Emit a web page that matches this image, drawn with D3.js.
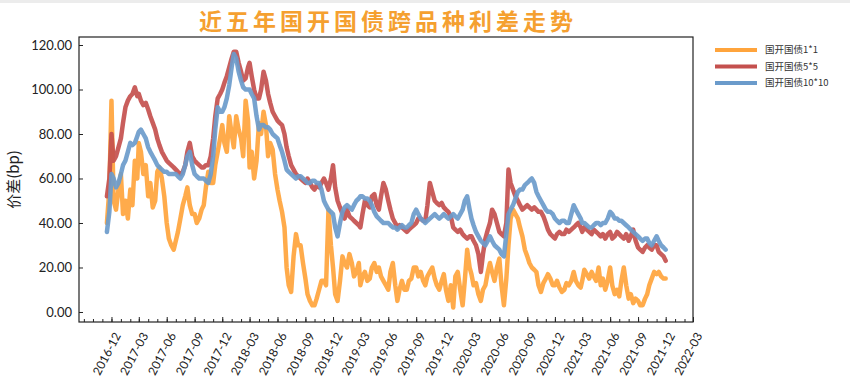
<!DOCTYPE html>
<html>
<head>
<meta charset="utf-8">
<script src="https://cdn.jsdelivr.net/npm/d3@7"></script>
<style>
  html, body { margin: 0; padding: 0; background: #fff; }
  svg { display: block; }
</style>
</head>
<body>
<svg id="chart" width="850" height="385"></svg>
<script>
// ---------------- DATA ----------------
const title = "近五年国开国债跨品种利差走势";
const yLabel = "价差(bp)";
const seriesNames = ["国开国债1*1", "国开国债5*5", "国开国债10*10"];
const xTickLabels = ["2016-12","2017-03","2017-06","2017-09","2017-12","2018-03","2018-06","2018-09","2018-12","2019-03","2019-06","2019-09","2019-12","2020-03","2020-06","2020-09","2020-12","2021-03","2021-06","2021-09","2021-12","2022-03"];
const yTicks = [0, 20, 40, 60, 80, 100, 120];

// observation dates: 2016-11-16, 2016-11-24, then days 1/8/16/24 of each month Dec-2016..Nov-2021, then 2021-12-01
const firstDates = ["2016-11-16", "2016-11-24"];
const obsDays = [1, 8, 16, 24];
const monthStart = "2016-12", monthEnd = "2021-11";
const lastDates = ["2021-12-01"];

const spread1x1 = [40,55,
95,50,46,55,
62,44,50,42, 55,48,68,60, 76,72,62,66, 52,58,47,50, 63,65,60,52, 40,33,30,28,
32,36,42,48, 52,56,48,44, 44,40,42,46, 48,56,63,58, 58,66,72,78, 84,76,72,88,
80,74,88,82, 78,70,95,86, 65,72,60,68, 85,80,90,84, 70,76,73,62, 55,50,45,38,
20,12,9,25, 35,30,30,22, 15,8,5,3, 3,6,10,14, 14,12,46,30, 20,8,5,14,
25,22,20,26, 22,16,18,22, 12,16,18,14, 15,20,22,18, 20,16,14,12, 10,18,22,12,
5,10,14,10, 10,14,15,20, 20,16,18,14, 12,16,18,20, 15,12,10,14, 17,10,5,12,
2,16,18,10, 3,14,28,20, 17,12,13,8, 5,10,12,18, 22,18,14,20, 24,12,3,15,
30,42,46,44, 42,38,34,28, 25,22,20,19, 18,12,9,13, 15,17,15,12, 12,14,11,9,
10,13,12,14, 18,14,12,11, 14,19,17,15, 18,16,14,20, 12,15,10,14, 20,12,8,10,
7,14,20,12, 6,8,4,6, 5,3,3,6, 8,12,15,18, 17,18,16,15,
15];

const spread5x5 = [52,60,
80,68,70,74,
78,85,92,95, 97,98,101,97, 98,95,93,94, 91,88,85,82, 78,75,72,70, 68,67,66,65,
64,63,62,63, 66,72,76,70, 68,67,66,65, 65,66,66,70, 78,88,96,98, 100,103,106,110,
114,117,117,112, 108,104,105,110, 112,106,100,96, 96,100,108,104, 98,94,90,88, 86,85,84,80,
74,70,66,64, 62,61,60,59, 58,60,58,56, 55,57,56,58, 60,58,55,60, 66,56,50,47,
44,42,46,43, 42,41,40,39, 38,44,50,48, 47,52,53,48, 46,52,58,55, 50,46,42,40,
38,39,38,37, 36,37,38,39, 40,42,42,41, 41,48,58,54, 50,49,48,49, 47,46,45,43,
38,37,36,37, 35,34,33,34, 34,32,30,26, 18,26,33,37, 40,46,44,40, 36,35,34,40,
64,58,55,52, 50,48,46,47, 48,47,46,47, 46,45,45,43, 40,37,35,34, 33,35,36,35,
35,37,36,37, 38,39,40,38, 36,38,37,36, 35,37,36,35, 34,35,33,35, 36,33,34,36,
35,34,33,35, 32,34,37,32, 29,28,27,29, 30,29,28,30, 30,27,26,25,
23];

const spread10x10 = [36,45,
62,60,56,58,
62,66,68,72, 76,75,76,79, 81,82,80,78, 74,72,70,68, 66,65,64,63, 63,62,62,62,
62,61,60,62, 66,70,72,66, 62,61,60,60, 60,59,58,62, 70,82,92,90, 90,92,96,102,
110,116,114,108, 104,101,100,100, 100,98,96,88, 82,84,84,83, 83,82,80,79, 78,75,72,68,
64,63,62,61, 60,61,61,60, 59,58,58,59, 59,58,58,55, 50,48,46,45, 44,38,34,40,
45,47,48,47, 46,48,50,51, 52,52,51,51, 50,48,45,43, 42,41,40,40, 40,39,38,38,
37,38,39,38, 38,39,40,44, 46,44,42,41, 40,41,42,43, 44,43,42,43, 44,43,42,43,
44,43,42,44, 46,50,52,46, 42,39,36,34, 32,31,30,32, 34,32,30,29, 28,26,25,35,
44,46,48,51, 54,55,55,57, 58,59,60,58, 54,52,50,48, 46,45,45,44, 42,41,40,41,
41,40,40,44, 48,46,44,42, 40,40,39,38, 38,39,40,40, 39,40,40,42, 45,44,42,42,
41,41,40,39, 38,37,36,35, 34,33,32,33, 33,31,30,32, 34,32,30,29,
28];

const colors = ["#FFA43C", "#C4504E", "#6B9BCB"];

// ---------------- CHART ----------------
const svg = d3.select("#chart");
const W = 850, H = 385;
const m = { left: 79, right: 693, top: 37, bottom: 322 };
const parse = d3.timeParse("%Y-%m-%d");
const parseM = d3.timeParse("%Y-%m");

const months = d3.timeMonth.range(parseM(monthStart), d3.timeMonth.offset(parseM(monthEnd), 1));
const dates = firstDates.map(parse)
  .concat(months.flatMap(mo => obsDays.map(dd => new Date(mo.getFullYear(), mo.getMonth(), dd))))
  .concat(lastDates.map(parse));

svg.append("rect").attr("x", 0).attr("y", 0).attr("width", W).attr("height", 3).attr("fill", "#ececec");

const x = d3.scaleTime()
  .domain([parse("2016-08-16"), parse("2022-03-01")])
  .range([m.left, m.right]);
const y = d3.scaleLinear()
  .domain([-4.5, 123.6])
  .range([m.bottom, m.top]);

const series = [spread1x1, spread5x5, spread10x10].map((vals, i) => ({
  name: seriesNames[i],
  color: colors[i],
  points: dates.map((d, j) => ({ date: d, value: vals[j] })).filter(p => p.value != null)
}));

const line = d3.line().x(d => x(d.date)).y(d => y(d.value));

svg.append("defs").append("clipPath").attr("id", "clip")
  .append("rect").attr("x", m.left).attr("y", m.top)
  .attr("width", m.right - m.left).attr("height", m.bottom - m.top);

const g = svg.append("g").attr("clip-path", "url(#clip)");
g.selectAll("path.series").data(series).join("path")
  .attr("class", "series")
  .attr("d", d => line(d.points))
  .attr("fill", "none")
  .attr("stroke", d => d.color)
  .attr("stroke-width", 4.5)
  .attr("stroke-linejoin", "round")
  .attr("stroke-linecap", "round")
  .attr("opacity", 0.92);

// Axes
const fmt = d3.format(".2f");
const yAxis = svg.append("g").attr("transform", `translate(${m.left},0)`)
  .call(d3.axisLeft(y).tickValues(yTicks).tickSize(-4).tickPadding(7).tickFormat(fmt));
yAxis.select(".domain").remove();
yAxis.selectAll("text").attr("font-family", "Lato, 'Noto Sans', sans-serif")
  .attr("font-size", 13).attr("fill", "#222");
yAxis.selectAll("line").attr("stroke", "#222");

const majorTicks = xTickLabels.map(parseM);
const minorTicks = d3.timeMonth.range(parse("2016-09-01"), parse("2022-03-02"));

const xMinor = svg.append("g").attr("transform", `translate(0,${m.bottom})`)
  .call(d3.axisBottom(x).tickValues(minorTicks).tickSize(-3).tickFormat(""));
xMinor.select(".domain").remove();
xMinor.selectAll("line").attr("stroke", "#222");

const xAxis = svg.append("g").attr("transform", `translate(0,${m.bottom})`)
  .call(d3.axisBottom(x).tickValues(majorTicks).tickSize(-5).tickFormat(d3.timeFormat("%Y-%m")));
xAxis.select(".domain").remove();
xAxis.selectAll("line").attr("stroke", "#222");
xAxis.selectAll("text")
  .attr("font-family", "Lato, 'Noto Sans', sans-serif")
  .attr("font-size", 12).attr("fill", "#222")
  .attr("text-anchor", "end")
  .attr("dy", "0.35em")
  .attr("transform", "translate(3,10) rotate(-62)");

// Frame
svg.append("rect")
  .attr("x", m.left).attr("y", m.top)
  .attr("width", m.right - m.left).attr("height", m.bottom - m.top)
  .attr("fill", "none").attr("stroke", "#222").attr("stroke-width", 1.2);

// Y label
svg.append("text")
  .attr("transform", `translate(19,${(m.top + m.bottom) / 2}) rotate(-90)`)
  .attr("text-anchor", "middle")
  .attr("font-family", "'Noto Sans CJK SC', sans-serif")
  .attr("font-size", 15).attr("fill", "#222")
  .text(yLabel);

// Title
svg.append("text")
  .attr("x", (m.left + m.right) / 2 + 2).attr("y", 30)
  .attr("text-anchor", "middle")
  .attr("font-family", "'Noto Sans CJK SC', sans-serif")
  .attr("font-weight", 600)
  .attr("font-size", 23)
  .attr("letter-spacing", 4)
  .attr("fill", "#F5A030")
  .text(title);

// Legend
const lg = svg.append("g");
series.forEach((s, i) => {
  const yy = 50 + i * 16.5;
  lg.append("line").attr("x1", 715).attr("x2", 757).attr("y1", yy).attr("y2", yy)
    .attr("stroke", s.color).attr("stroke-width", 4);
  lg.append("text").attr("x", 765).attr("y", yy).attr("dy", "0.35em")
    .attr("font-family", "'Noto Sans CJK SC', sans-serif")
    .attr("font-size", 9.5).attr("fill", "#333")
    .text(s.name);
});
</script>
</body>
</html>
